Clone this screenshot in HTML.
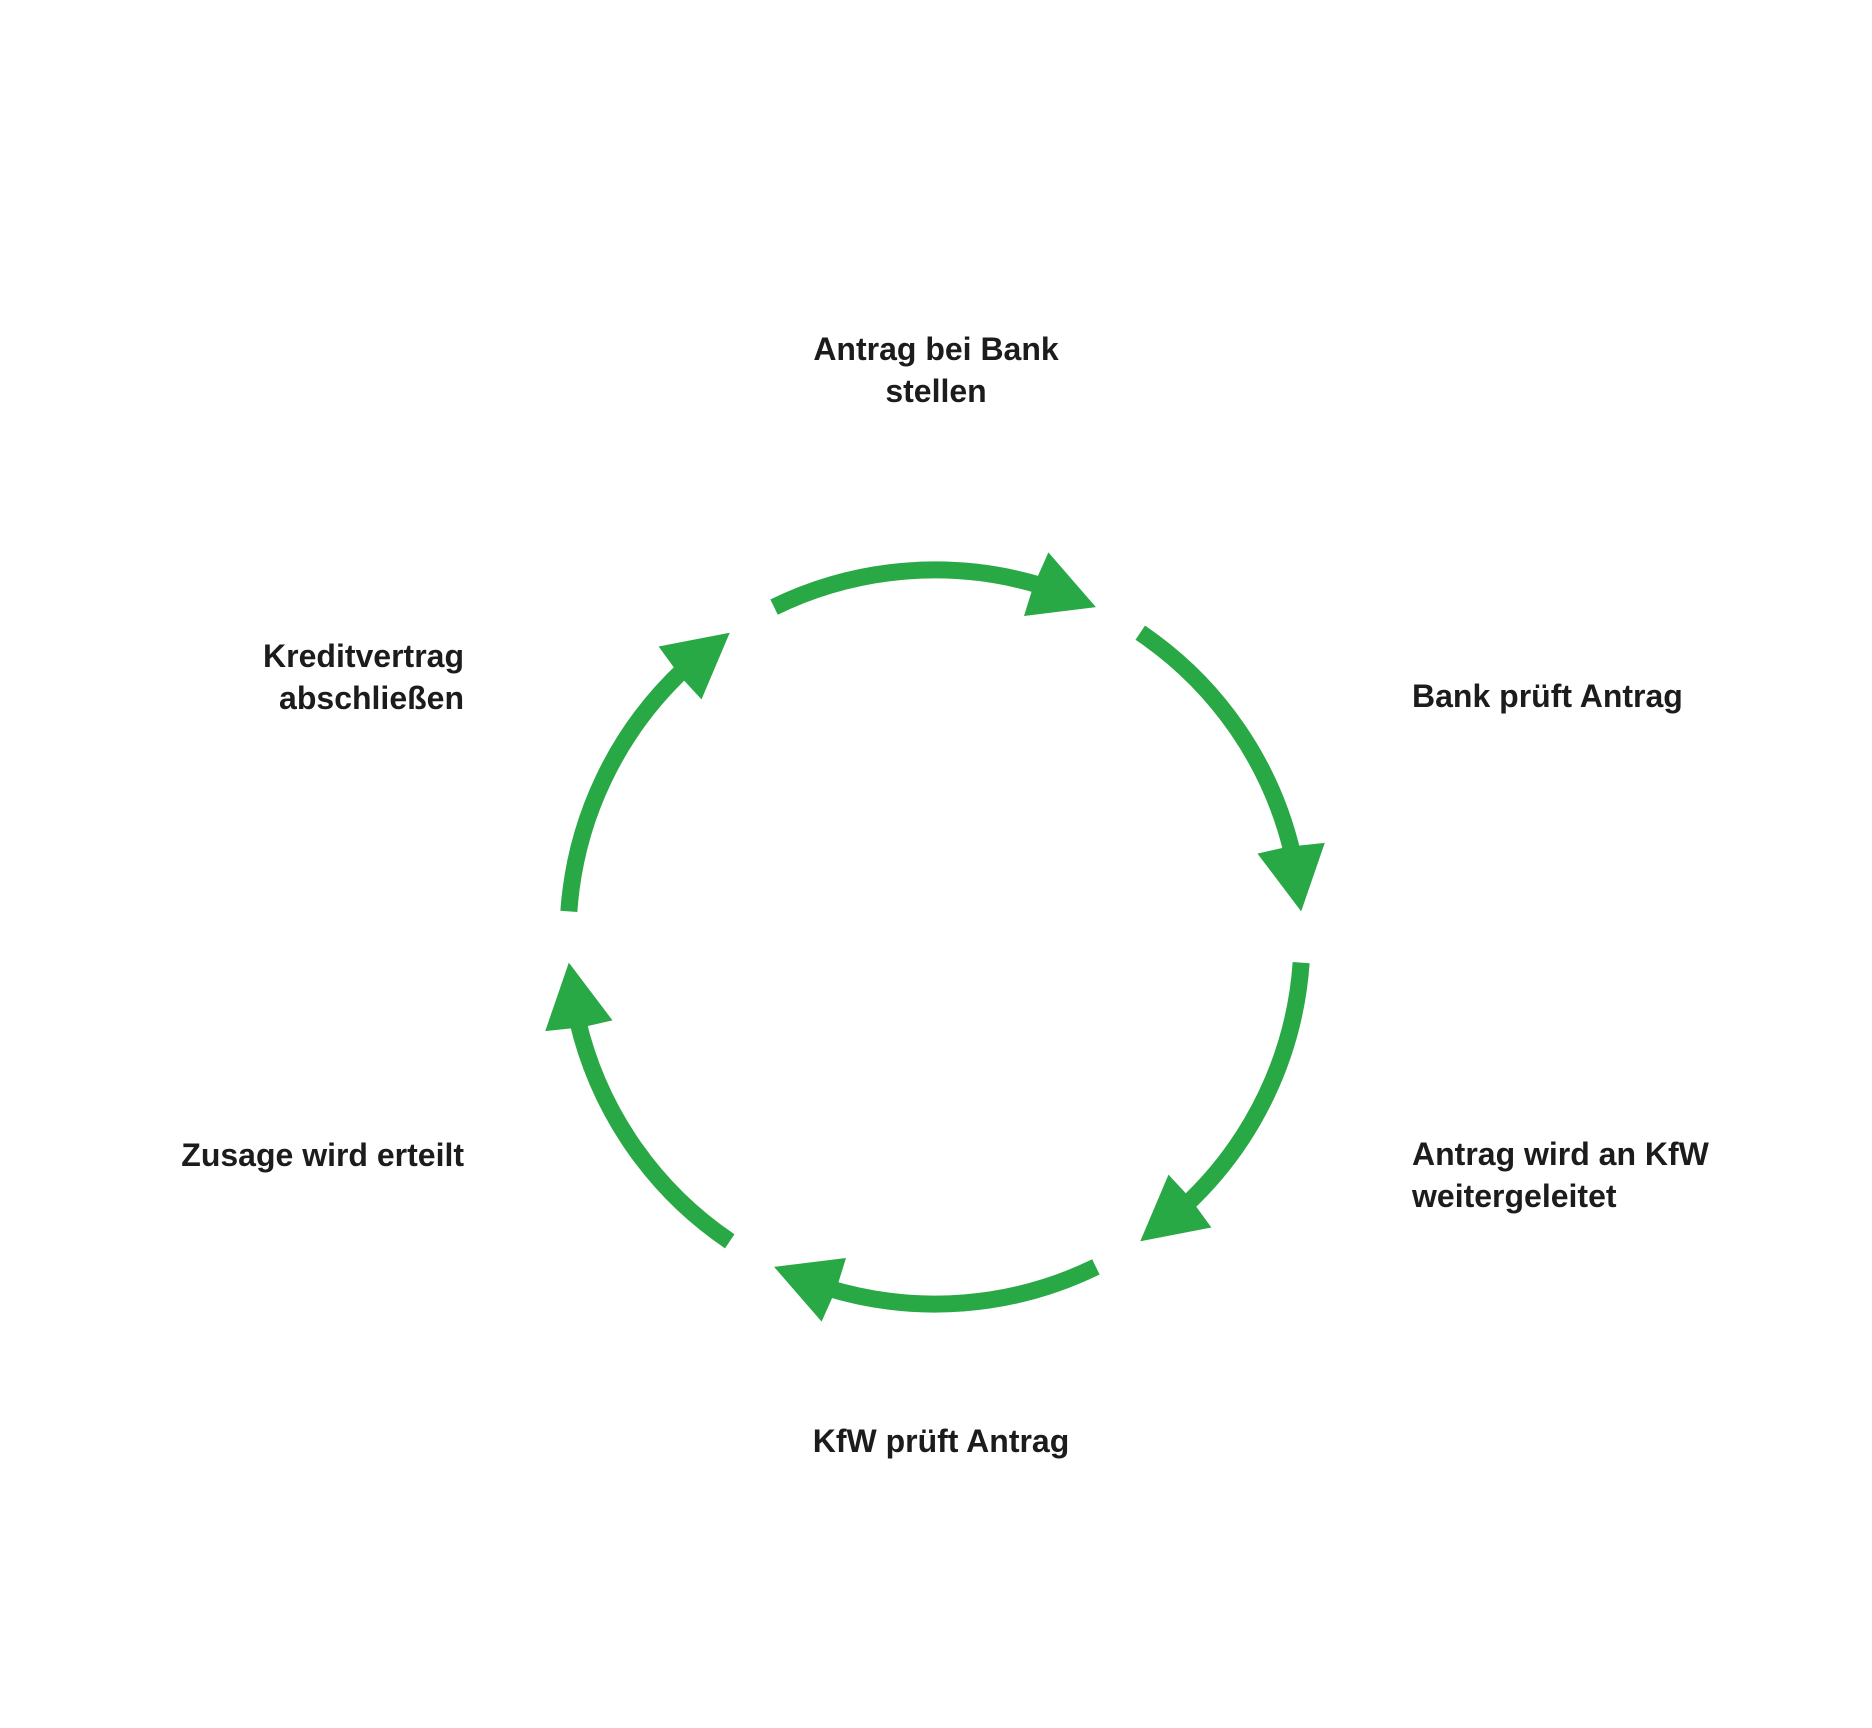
<!DOCTYPE html>
<html><head><meta charset="utf-8"><style>
html,body{margin:0;padding:0;background:#fff;}
svg{display:block;}
text{font-family:"Liberation Sans",sans-serif;font-weight:bold;font-size:32px;fill:#1c1c1c;}
</style></head><body>
<svg width="1872" height="1728" viewBox="0 0 1872 1728" xmlns="http://www.w3.org/2000/svg">
<defs>
<g id="seg">
<path d="M779.1 610.1 A367 367 0 0 1 1047.3 589.0" fill="none" stroke="#29a846" stroke-width="17"/>
<polygon points="1100.9,610.1 1053.4,555.4 1038,590 1029.0,619.0" fill="#29a846"/>
</g>
</defs>
<g transform="translate(-5,-3)">
<use href="#seg"/>
<use href="#seg" transform="rotate(60 940 940)"/>
<use href="#seg" transform="rotate(120 940 940)"/>
<use href="#seg" transform="rotate(180 940 940)"/>
<use href="#seg" transform="rotate(240 940 940)"/>
<use href="#seg" transform="rotate(300 940 940)"/>
</g>
<text x="936" y="360" text-anchor="middle">Antrag bei Bank</text>
<text x="936" y="402" text-anchor="middle">stellen</text>
<text x="1412" y="707">Bank prüft Antrag</text>
<text x="1412" y="1165">Antrag wird an KfW</text>
<text x="1412" y="1207">weitergeleitet</text>
<text x="941" y="1452" text-anchor="middle">KfW prüft Antrag</text>
<text x="464" y="1166" text-anchor="end">Zusage wird erteilt</text>
<text x="464" y="667" text-anchor="end">Kreditvertrag</text>
<text x="464" y="709" text-anchor="end">abschließen</text>
</svg>
</body></html>
